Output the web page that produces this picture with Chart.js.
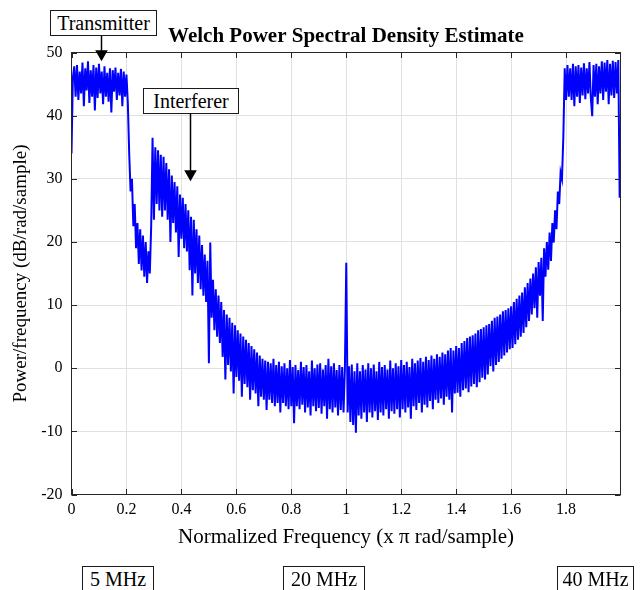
<!DOCTYPE html>
<html><head><meta charset="utf-8">
<script src="https://cdn.jsdelivr.net/npm/chart.js@4.4.0/dist/chart.umd.min.js"></script>
<style>
body{margin:0;background:#fff;}
#wrap{position:relative;width:644px;height:590px;overflow:hidden;background:#fff;}
#c{position:absolute;left:0;top:0;}
.box{position:absolute;box-sizing:border-box;border:1px solid #1a1a1a;background:#fff;color:#000;
 font-family:"Liberation Serif","Times New Roman",serif;font-size:20px;line-height:24px;text-align:center;white-space:nowrap;}
</style></head>
<body><div id="wrap"><canvas id="c" width="644" height="590"></canvas>
<div class="box" id="b0" style="left:50px;top:10px;width:107px;height:26px;"></div>
<div class="box" id="b1" style="left:143px;top:88px;width:96px;height:26px;"></div>
<div class="box" id="b2" style="left:82px;top:566px;width:72px;height:40px;"></div>
<div class="box" id="b3" style="left:283px;top:566px;width:82px;height:40px;"></div>
<div class="box" id="b4" style="left:557px;top:566px;width:77px;height:40px;"></div>
</div>
<script>
// ---- data ----
const freqStep = 0.005; // x pi rad/sample, spacing of the PSD samples
const psdDb = [
34,46,47.8,43,48,42.5,47,43.5,48.4,41.5,
47.5,44,48.6,42,47.2,43,48,40.8,47.6,42.8,
48.2,43.5,47,41.8,47.8,43,46.8,42.2,47.5,40.5,
47.2,43.8,47.6,42.5,46.8,43.2,47.4,41.5,47,43,
46.5,42,34,28,30,22.5,26,19,23,16.5,
22,15.5,21,14.5,20,13.5,18.5,15,22.5,36.5,
23.5,35,26,34.5,25,33.8,24,33.5,25,32.5,
23.5,31.5,20,30.5,23,29.5,21.5,28.8,17.6,27.5,
20.5,27,19,26,18.5,25,15.5,24,11.5,23.5,
15,22,13.5,21,12.5,19.5,11.5,18,10.5,17,
0.8,19.9,8,14,6,12.5,5,11.5,4,10.5,
1.8,9.2,-1.8,8.5,0.5,8,-0.5,7.2,-4,6.8,
-1.4,6,-2,5.5,-4.5,5,-2.5,4.5,-3,4,
-5,3.5,-3.5,3,-4,2.5,-6,2,-4.5,1.5,
-5,1.2,-6.6,1,-5,0.8,-5.5,1.5,-6,0.5,
-5.5,1,-7,0.3,-5.5,0.8,-6,0,-6.5,1.3,
-6,0.2,-8.7,0.5,-6,-0.3,-6.5,1,-5.8,0.2,
-7,0.5,-6.2,-0.5,-7.5,1.2,-6,0,-6.8,0.6,
-6.3,0.8,-7.2,-0.2,-6,0.5,-8,1.5,-6.5,0.3,
-7,0.8,-6.2,-0.3,-7.5,0.5,-6.6,0.2,-7,0,
16.7,-7,0.3,-8.5,0.6,-9,-0.5,-10.2,0.8,-7.5,
-0.5,-8,0.5,-7,-0.2,-8.5,0.8,-7,0,-7.8,
0.6,-6.8,-0.5,-8.2,1,-7,0.2,-7.5,0.5,-6.5,
-0.2,-8,1.2,-6.8,0,-7.2,0.8,-6.5,0.3,-7.8,
1.3,-6.5,0.5,-7,1,-6.2,0.2,-8,1.5,-6,
0.8,-6.6,1.2,-5.5,1.6,-7,1,-5.8,1.8,-6.2,
1.3,-5.2,2,-6.5,1.5,-5,2.2,-5.5,1.8,-4.8,
2.5,-5.8,2.2,-4.5,2.8,-5,3.2,-7,2.8,-4,
3.5,-3.9,3.2,-4.5,4,-3.5,4.3,-3.2,4.8,-3.8,
5,-2.9,5.2,-2.5,5.5,-3,6,-2.2,6.2,-1.5,
6.5,-1.8,6.8,-1,7,0.3,7.5,-0.5,8,0.5,
8.2,1,8.5,1.5,9,2,9.2,2.5,9.5,3,
9.8,3.2,10.5,3.8,11,4.5,11.5,5,12,5.6,
12.8,6.5,13.5,7.5,14.2,8.5,15,9.5,16,8,
16.8,11.5,17.5,7.5,19,14.5,20,15.6,21.5,17,
23,19.9,25,22,28,26,31,30,36.7,47.5,
42.5,48,43,47.5,42.5,48.2,41.5,47.8,43,48,
42,47.6,43.2,48.3,42.6,47.5,43.5,48.5,42.8,39.9,
48,43,48.2,41.8,47.8,43.5,48.6,42.5,48.4,43.8,
48.8,41.8,48.2,43.2,48.7,42.8,48.5,43.5,48.8,27
];
const xTicks = [0,0.2,0.4,0.6,0.8,1,1.2,1.4,1.6,1.8];
const xTickLabels = ['0','0.2','0.4','0.6','0.8','1','1.2','1.4','1.6','1.8'];
const yTicks = [-20,-10,0,10,20,30,40,50];
const xMin = 0, xMax = 1.998, yMin = -20, yMax = 50;
const titleText = 'Welch Power Spectral Density Estimate';
const xTitle = 'Normalized Frequency (x \u03C0 rad/sample)';
const yTitle = 'Power/frequency (dB/rad/sample)';
// annotations: text boxes with arrows (arrow positions in data units)
const annotLabels = ['Transmitter','Interferer'];
const arrowFreq = [0.107, 0.431];
const arrowTipDb = [48.6, 29.6];
const arrowTailDb = [52.8, 40.4];
const bandLabels = ['5 MHz','20 MHz','40 MHz'];

document.getElementById('b0').textContent = annotLabels[0];
document.getElementById('b1').textContent = annotLabels[1];
document.getElementById('b2').textContent = bandLabels[0];
document.getElementById('b3').textContent = bandLabels[1];
document.getElementById('b4').textContent = bandLabels[2];

const points = psdDb.map((v,i)=>({x: i*freqStep, y: v}));
const SERIF = '"Liberation Serif","Times New Roman",serif';
const AX = '#262626';

const framePlugin = {
  id:'frame',
  afterDatasetsDraw(chart){
    const {ctx, chartArea:{left,right,top,bottom}, scales:{x,y}} = chart;
    ctx.save();
    ctx.strokeStyle = AX; ctx.lineWidth = 1;
    ctx.strokeRect(left, top, right-left, bottom-top);
    ctx.beginPath();
    const tl = 5.5;
    x.ticks.forEach(t=>{ const p = Math.round(x.getPixelForValue(t.value))+0.5;
      ctx.moveTo(p,bottom); ctx.lineTo(p,bottom-tl); ctx.moveTo(p,top); ctx.lineTo(p,top+tl); });
    y.ticks.forEach(t=>{ const p = Math.round(y.getPixelForValue(t.value))+0.5;
      ctx.moveTo(left,p); ctx.lineTo(left+tl,p); ctx.moveTo(right,p); ctx.lineTo(right-tl,p); });
    ctx.stroke();
    // arrows
    ctx.strokeStyle = '#000'; ctx.fillStyle = '#000';
    for (let k=0;k<arrowFreq.length;k++){
      const px = Math.round(x.getPixelForValue(arrowFreq[k]))+0.5;
      const ty = y.getPixelForValue(arrowTipDb[k]);
      const sy = y.getPixelForValue(arrowTailDb[k]);
      ctx.beginPath(); ctx.lineWidth = 1.5; ctx.moveTo(px, sy); ctx.lineTo(px, ty-10); ctx.stroke();
      ctx.beginPath(); ctx.moveTo(px-6.3, ty-11); ctx.lineTo(px+6.3, ty-11); ctx.lineTo(px, ty); ctx.closePath(); ctx.fill();
    }
    ctx.restore();
  }
};

new Chart(document.getElementById('c'), {
  type:'line',
  data:{ datasets:[{ data: points, borderColor:'#0000ff', borderWidth:2, pointRadius:0, tension:0, fill:false }]},
  options:{
    responsive:false, animation:false, events:[],
    layout:{ padding:{ left:0, right:23.5, top:0, bottom:30 } },
    plugins:{
      legend:{display:false}, tooltip:{enabled:false},
      title:{ display:true, text:titleText, fullSize:false, color:'#000',
        font:{family:SERIF, size:21, weight:'bold', lineHeight:1.2}, padding:{top:24.3, bottom:3} }
    },
    scales:{
      x:{ type:'linear', min:xMin, max:xMax,
        afterBuildTicks: s => { s.ticks = xTicks.map(v=>({value:v})); },
        afterFit: s => { s.height = 65.5; },
        ticks:{ color:'#000', font:{family:SERIF, size:16}, padding:6, maxRotation:0, autoSkip:false,
          callback:(v)=>{ const i = xTicks.indexOf(v); return i>=0 ? xTickLabels[i] : ''; } },
        grid:{ color:'#e0e0e0', drawTicks:false },
        border:{ display:false },
        title:{ display:true, text:xTitle, color:'#000', font:{family:SERIF, size:21, lineHeight:1.2}, padding:{top:0,bottom:9.5} }
      },
      y:{ type:'linear', min:yMin, max:yMax,
        afterBuildTicks: s => { s.ticks = yTicks.map(v=>({value:v})); },
        afterFit: s => { s.width = 71.5; },
        ticks:{ color:'#000', font:{family:SERIF, size:16}, padding:9 },
        grid:{ color:'#e0e0e0', drawTicks:false },
        border:{ display:false },
        title:{ display:true, text:yTitle, color:'#000', font:{family:SERIF, size:19, lineHeight:1.2}, padding:{top:9.8,bottom:0} }
      }
    }
  },
  plugins:[framePlugin]
});
</script></body></html>
